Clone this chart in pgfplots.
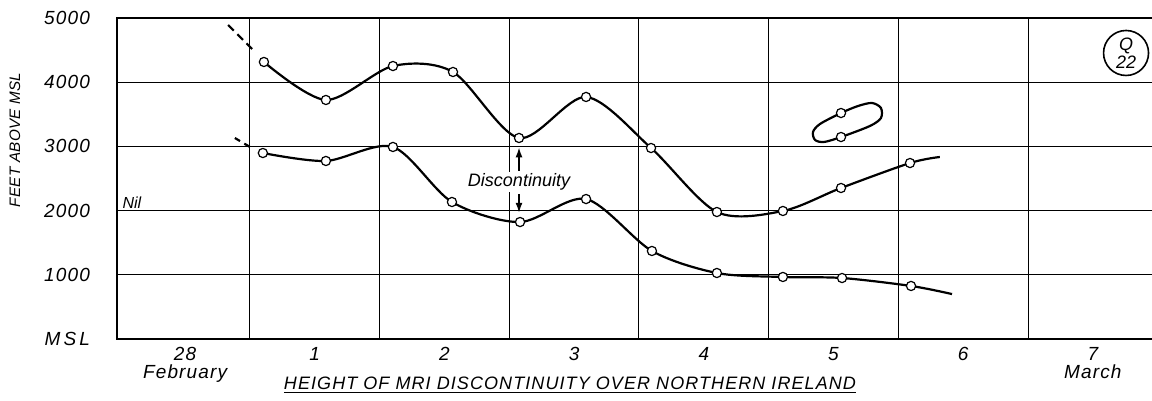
\documentclass[border=0pt]{standalone}
\usepackage{fontspec}
\setmainfont{Liberation Sans}
\usepackage{pgfplots}
\pgfplotsset{compat=1.18}
\usetikzlibrary{arrows.meta}
\newcommand{\lab}{\itshape\fontsize{9.5}{9}\selectfont\addfontfeature{LetterSpace=6}}
\begin{document}
\begin{tikzpicture}
\path[use as bounding box] (-58.5pt,-31pt) rectangle (517.5pt,169.5pt);
\begin{axis}[
 at={(0pt,0pt)}, anchor=south west,
 scale only axis, width=520.35pt, height=160.5pt,
 xmin=-0.025, xmax=8, ymin=0, ymax=5000,
 xtick={0.5,1.5,2.5,3.5,4.5,5.5,6.5,7.5},
 xticklabels={{28\\February},1,2,3,4,5,6,{7\\March}},
 minor xtick={1,2,3,4,5,6,7}, xminorgrids,
 ytick={0,1000,2000,3000,4000,5000},
 yticklabels={M\,S\,L,1000,2000,3000,4000,5000}, ymajorgrids,
 major tick length=0pt, minor tick length=0pt,
 grid style={black, line width=0.5pt},
 minor grid style={black, line width=0.5pt},
 axis line style={line width=1pt},
 tick label style={font=\lab},
 xticklabel style={align=center, anchor=north, yshift=-0.5pt},
 yticklabel style={xshift=-10pt},
 clip=false,
]
% upper curve
\addplot[black, line width=1.1pt, smooth] coordinates {
 (1.108,4315) (1.586,3723) (2.103,4252) (2.566,4159) (3.075,3131) (3.592,3770)
 (4.093,2975) (4.601,1978) (5.11,1994) (5.558,2352) (6.09,2741) (6.32,2835)};
% lower curve
\addplot[black, line width=1.1pt, smooth] coordinates {
 (1.1,2897) (1.586,2773) (2.103,2991) (2.558,2134) (3.083,1822) (3.592,2180)
 (4.1,1371) (4.601,1028) (5.11,966) (5.566,950) (6.098,826) (6.414,700)};
% dashed leads
\addplot[black, line width=1.1pt, dash pattern=on 4pt off 2.5pt] coordinates {(0.832,4891) (1.025,4502)};
\addplot[black, line width=1.1pt, dash pattern=on 3pt off 2.5pt] coordinates {(0.884,3131) (1.0,2991)};
% loop
\addplot[black, line width=1.1pt, smooth cycle] coordinates {
 (5.558,3520) (5.689,3629) (5.797,3676) (5.866,3598) (5.866,3442) (5.781,3318)
 (5.558,3146) (5.427,3069) (5.358,3100) (5.342,3224) (5.396,3349)};
% markers
\addplot[only marks, mark=*, mark size=2.3pt, mark options={fill=white, draw=black, line width=0.6pt}] coordinates {
 (1.108,4315) (1.586,3723) (2.103,4252) (2.566,4159) (3.075,3131) (3.592,3770)
 (4.093,2975) (4.601,1978) (5.11,1994) (5.558,2352) (6.09,2741)
 (1.1,2897) (1.586,2773) (2.103,2991) (2.558,2134) (3.083,1822) (3.592,2180)
 (4.1,1371) (4.601,1028) (5.11,966) (5.566,950) (6.098,826)
 (5.558,3520) (5.558,3146)};
% annotations
\draw[line width=0.8pt, -{Latex[length=5pt,width=3.5pt]}] (axis cs:3.075,2620) -- (axis cs:3.075,2985);
\draw[line width=0.8pt, -{Latex[length=5pt,width=3.5pt]}] (axis cs:3.075,2260) -- (axis cs:3.075,1965);
\node[font=\itshape\fontsize{9}{9}\selectfont, fill=white, inner sep=1pt] at (axis cs:3.075,2445) {Discontinuity};
\node[anchor=south west, font=\itshape\fontsize{8}{8}\selectfont, inner sep=1pt] at (axis cs:0.0,2000) {Nil};
\node[draw, circle, line width=0.8pt, minimum size=22.5pt, inner sep=0pt, align=center, font=\itshape\fontsize{9}{7.5}\selectfont] at (axis cs:7.756,4455) {Q\\22};
\node[rotate=90, font=\itshape\fontsize{7.6}{9}\selectfont\addfontfeature{LetterSpace=2}] at (axis cs:-0.812,3100) {FEET ABOVE MSL};
\node[font=\itshape\fontsize{9}{9}\selectfont\addfontfeature{LetterSpace=6}] at (axis cs:3.468,-716) {\underline{HEIGHT OF MRI DISCONTINUITY OVER NORTHERN IRELAND}};
\end{axis}
\end{tikzpicture}
\end{document}
